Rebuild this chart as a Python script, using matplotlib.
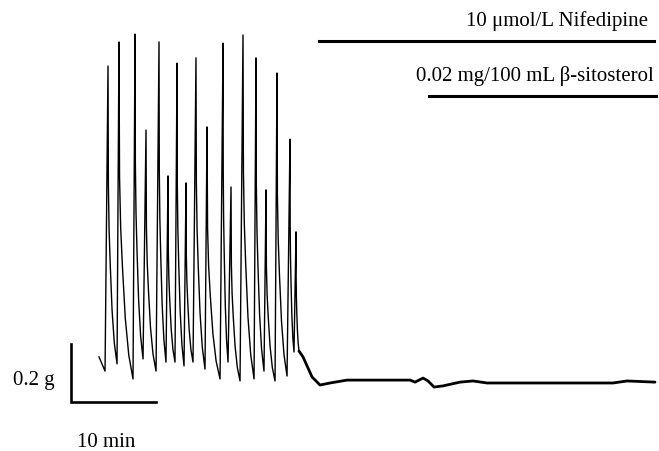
import matplotlib.pyplot as plt
import numpy as np

# Tension trace (time in min, tension in g,
# 0 g = resting level after nifedipine)
trace_start = (0.0, 0.090)

# trough that precedes each contraction
trough_t = [0.71, 2.12, 4.00, 5.18, 6.71, 7.88, 8.94, 10.00, 11.06,
            12.47, 14.24, 15.18, 16.59, 18.24, 19.41, 20.71, 22.12, 22.94]
trough_g = [0.041, 0.066, 0.014, 0.083, 0.041, 0.072, 0.072, 0.059, 0.072,
            0.048, 0.014, 0.072, 0.007, 0.014, 0.041, 0.007, 0.024, 0.107]

# top of each contraction
peak_t = [1.06, 2.35, 4.24, 5.53, 7.06, 8.12, 9.18, 10.24, 11.41,
          12.71, 14.59, 15.53, 16.94, 18.47, 19.65, 20.94, 22.47, 23.18]
peak_g = [1.093, 1.176, 1.203, 0.872, 1.176, 0.714, 1.103, 0.690, 1.121,
          0.883, 1.172, 0.676, 1.200, 1.121, 0.666, 1.069, 0.841, 0.521]

# relaxation shape of one contraction (fraction of time to next trough,
# fraction of amplitude left)
decay_frac_t = [0.0, 0.04, 0.12, 0.25, 0.45, 0.70, 1.0]
decay_frac_a = [1.0, 0.60, 0.45, 0.33, 0.18, 0.07, 0.0]

# after the drugs: quiescent trace
rest_t = [23.53, 24.00, 25.06, 26.00, 27.18, 29.18, 36.59, 37.18, 38.12,
          38.71, 39.41, 40.47, 42.47, 44.00, 45.65, 52.71, 60.47, 62.12, 65.41]
rest_g = [0.110, 0.090, 0.021, -0.007, 0.000, 0.010, 0.010, 0.003, 0.017,
          0.007, -0.014, -0.010, 0.003, 0.007, 0.000, 0.000, 0.000, 0.007, 0.003]

# drug application bars (start, end in min)
nif_label = "10 \u03bcmol/L Nifedipine"
nif_bar = (25.88, 65.29)
sito_label = "0.02 mg/100 mL \u03b2-sitosterol"
sito_bar = (38.82, 65.53)

# build the contraction part of the trace
xs = [trace_start[0]]
ys = [trace_start[1]]
end_t = trough_t[1:] + [rest_t[0]]
end_g = trough_g[1:] + [rest_g[0]]
for i in range(len(peak_t)):
    xs.append(trough_t[i])
    ys.append(trough_g[i])
    span = end_t[i] - peak_t[i]
    for ft, fa in zip(decay_frac_t, decay_frac_a):
        xs.append(peak_t[i] + ft * span)
        ys.append(end_g[i] + fa * (peak_g[i] - end_g[i]))

plt.rcParams['font.family'] = ['Liberation Serif', 'DejaVu Serif']

fig = plt.figure(figsize=(6.59, 4.52), dpi=100)
ax = fig.add_axes([0, 0, 1, 1])
ax.set_xlim(-11.647, 65.88)
ax.set_ylim(-0.2345, 1.3241)
ax.axis('off')

ax.plot(xs, ys, color='black', lw=1.0, solid_joinstyle='round')
ax.plot(rest_t, rest_g, color='black', lw=2.0, solid_capstyle='round')

# scale bars
sx, sy = -3.294, -0.0655
ax.plot([sx, sx, sx + 10], [sy + 0.2, sy, sy], color='black', lw=1.9,
        solid_joinstyle='miter')
ax.text(sx - 1.9, -0.003, "0.2 g", ha='right', va='baseline', fontsize=15)
ax.text(0.88, -0.217, "10 min", ha='center', va='baseline', fontsize=15)

# drug bars
ax.plot(nif_bar, [1.179, 1.179], color='black', lw=2.2)
ax.text(64.59, 1.234, nif_label, ha='right', va='baseline', fontsize=15)
ax.plot(sito_bar, [0.990, 0.990], color='black', lw=2.2)
ax.text(65.29, 1.045, sito_label, ha='right', va='baseline', fontsize=15)

fig.savefig('out.png', dpi=100)
